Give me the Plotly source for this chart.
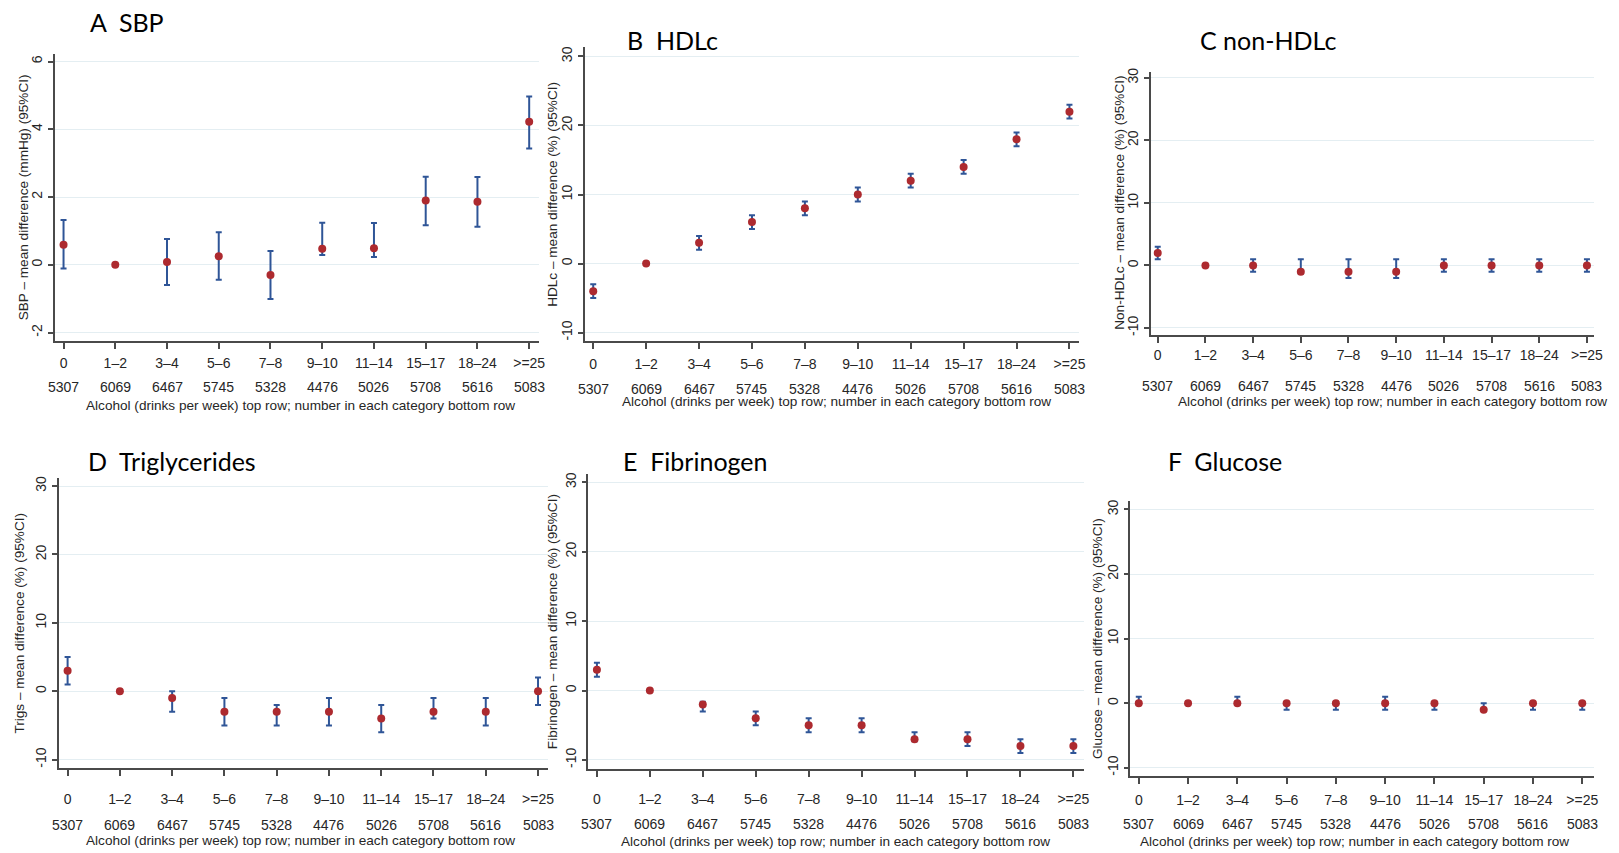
import plotly.graph_objects as go

# ---------------- data ----------------
categories = ["0", "1–2", "3–4", "5–6", "7–8", "9–10", "11–14", "15–17", "18–24", ">=25"]
counts = [5307, 6069, 6467, 5745, 5328, 4476, 5026, 5708, 5616, 5083]

sbp_mean = [0.59, 0, 0.08, 0.25, -0.30, 0.47, 0.49, 1.90, 1.86, 4.22]
sbp_low = [-0.11, 0, -0.60, -0.44, -1.01, 0.29, 0.23, 1.17, 1.12, 3.43]
sbp_high = [1.32, 0, 0.76, 0.96, 0.41, 1.24, 1.23, 2.60, 2.59, 4.97]

hdl_mean = [-4, 0, 3, 6, 8, 10, 12, 14, 18, 22]
hdl_low = [-5, 0, 2, 5, 7, 9, 11, 13, 17, 21]
hdl_high = [-3, 0, 4, 7, 9, 11, 13, 15, 19, 23]

nonhdl_mean = [2, 0, 0, -1, -1, -1, 0, 0, 0, 0]
nonhdl_low = [1, 0, -1, -1.3, -2, -2, -1, -1, -1, -1]
nonhdl_high = [3, 0, 1, 1, 1, 1, 1, 1, 1, 1]

trig_mean = [3, 0, -1, -3, -3, -3, -4, -3, -3, 0]
trig_low = [1, 0, -3, -5, -5, -5, -6, -4, -5, -2]
trig_high = [5, 0, 0, -1, -2, -1, -2, -1, -1, 2]

fib_mean = [3, 0, -2, -4, -5, -5, -7, -7, -8, -8]
fib_low = [2, 0, -3, -5, -6, -6, -7.3, -8, -9, -9]
fib_high = [4, 0, -1.6, -3, -4, -4, -6, -6, -7, -7]

glu_mean = [0, 0, 0, 0, 0, 0, 0, -1, 0, 0]
glu_low = [-0.2, 0, -0.2, -1, -1, -1, -1, -1, -1, -1]
glu_high = [1, 0, 1, 0.2, 0.2, 1, 0.2, 0, 0.2, 0.2]

sbp_ticks = [-2, 0, 2, 4, 6]
pct_ticks = [-10, 0, 10, 20, 30]

x_title = "Alcohol (drinks per week) top row; number in each category bottom row"

# ---------------- layout (pixel boxes in page coordinates) ----------------
OFF = 8  # default page body margin
W, H = 1619 - OFF, 853 - OFF
panels = [
    dict(title="A  SBP", ytitle="SBP – mean difference (mmHg) (95%CI)",
         mean=sbp_mean, low=sbp_low, high=sbp_high, ticks=sbp_ticks,
         box=(55, 542, 50, 339.3), xr=(-0.17, 9.19), yr=(-2.26, 6.23),
         tpos=(88, 18), ytoff=31, tick_so=2, cnt=46, xt=64, xts=-2),
    dict(title="B  HDLc", ytitle="HDLc – mean difference (%) (95%CI)",
         mean=hdl_mean, low=hdl_low, high=hdl_high, ticks=pct_ticks,
         box=(588, 1085, 43, 339.3), xr=(-0.16, 9.18), yr=(-11.27, 31.4),
         tpos=(628, 36), ytoff=33, tick_so=3, cnt=48, xt=60, xts=-2),
    dict(title="C non-HDLc", ytitle="Non-HDLc – mean difference (%) (95%CI)",
         mean=nonhdl_mean, low=nonhdl_low, high=nonhdl_high, ticks=pct_ticks,
         box=(1157, 1603, 68, 332.7), xr=(-0.15, 9.15), yr=(-11.1, 31.0),
         tpos=(1205, 36), ytoff=31, tick_so=1, cnt=51, xt=67, xts=14),
    dict(title="D  Triglycerides", ytitle="Trigs – mean difference (%) (95%CI)",
         mean=trig_mean, low=trig_low, high=trig_high, ticks=pct_ticks,
         box=(59, 551, 476.7, 768.3), xr=(-0.17, 9.19), yr=(-11.2, 31.2),
         tpos=(86, 460), ytoff=39, tick_so=12, cnt=57, xt=73, xts=-9),
    dict(title="E  Fibrinogen", ytitle="Fibrinogen – mean difference (%) (95%CI)",
         mean=fib_mean, low=fib_low, high=fib_high, ticks=pct_ticks,
         box=(591.7, 1090, 472.7, 770), xr=(-0.16, 9.2), yr=(-11.37, 31.2),
         tpos=(624, 460), ytoff=36, tick_so=10, cnt=55, xt=72, xts=-6),
    dict(title="F  Glucose", ytitle="Glucose – mean difference (%) (95%CI)",
         mean=glu_mean, low=glu_low, high=glu_high, ticks=pct_ticks,
         box=(1136.7, 1602.5, 500, 776.7), xr=(-0.17, 9.23), yr=(-11.3, 31.3),
         tpos=(1173, 460), ytoff=33, tick_so=4, cnt=48, xt=65, xts=-12),
]

RED = "#ad2a2f"
BLUE = "#2f5597"
AXC = "#4a4a4a"
GRID = "#e4eef2"
TICKFONT = dict(family="Liberation Sans, Arial", size=14, color="#262626")
LABFONT = dict(family="Liberation Sans, Arial", size=13.6, color="#262626")

fig = go.Figure()
layout = dict(width=W, height=H, margin=dict(l=0, r=0, t=0, b=0),
              paper_bgcolor="white", plot_bgcolor="white", showlegend=False)
annotations = []

for i, p in enumerate(panels, start=1):
    sfx = "" if i == 1 else str(i)
    xa, ya = "x" + sfx, "y" + sfx
    x0, x1, y0, y1 = [v - OFF for v in p["box"]]
    plus = [h - m for h, m in zip(p["high"], p["mean"])]
    minus = [m - l for m, l in zip(p["mean"], p["low"])]
    fig.add_trace(go.Scatter(
        x=categories, y=p["mean"], mode="markers", xaxis=xa, yaxis=ya,
        marker=dict(color=RED, size=8),
        error_y=dict(type="data", symmetric=False, array=plus, arrayminus=minus,
                     color=BLUE, thickness=2, width=3),
    ))
    layout["xaxis" + sfx] = dict(
        domain=[x0 / W, x1 / W], anchor=ya, type="category",
        categoryorder="array", categoryarray=categories, range=list(p["xr"]),
        showline=True, linecolor=AXC, linewidth=1.5, showgrid=False, zeroline=False,
        ticks="outside", ticklen=6, tickcolor=AXC, tickwidth=1.5,
        tickfont=TICKFONT, ticklabelstandoff=p["tick_so"],
    )
    layout["yaxis" + sfx] = dict(
        domain=[1 - y1 / H, 1 - y0 / H], anchor=xa, range=list(p["yr"]),
        tickvals=p["ticks"], ticktext=[str(t) for t in p["ticks"]], tickangle=-90,
        showline=True, linecolor=AXC, linewidth=1.5, showgrid=True, gridcolor=GRID,
        gridwidth=1.2, zeroline=False, ticks="outside", ticklen=5, tickcolor=AXC,
        tickwidth=1.5, tickfont=TICKFONT,
    )
    # counts row
    for c, n in zip(categories, counts):
        annotations.append(dict(x=c, y=0, xref=xa, yref=ya + " domain", text=str(n),
                                showarrow=False, yanchor="middle", yshift=-p["cnt"],
                                font=TICKFONT))
    # x title
    annotations.append(dict(x=categories[0], y=0, xref=xa, yref=ya + " domain",
                            text=x_title, showarrow=False, xanchor="center",
                            yanchor="middle", yshift=-p["xt"],
                            xshift=(x1 - x0) * 4.6 / (p["xr"][1] - p["xr"][0]) + p["xts"],
                            font=LABFONT))
    # y title
    annotations.append(dict(x=0, y=0.5, xref=xa + " domain", yref=ya + " domain",
                            text=p["ytitle"], textangle=-90, showarrow=False,
                            xanchor="center", yanchor="middle", xshift=-p["ytoff"],
                            font=LABFONT))
    # panel title
    annotations.append(dict(x=(p["tpos"][0] - OFF) / W, y=1 - (p["tpos"][1] - OFF) / H,
                            xref="paper", yref="paper",
                            text=p["title"], showarrow=False, xanchor="left", yanchor="middle",
                            font=dict(family="Lato, Open Sans", size=25, color="black")))

layout["annotations"] = annotations
fig.update_layout(**layout)
fig.write_html("out.html")
